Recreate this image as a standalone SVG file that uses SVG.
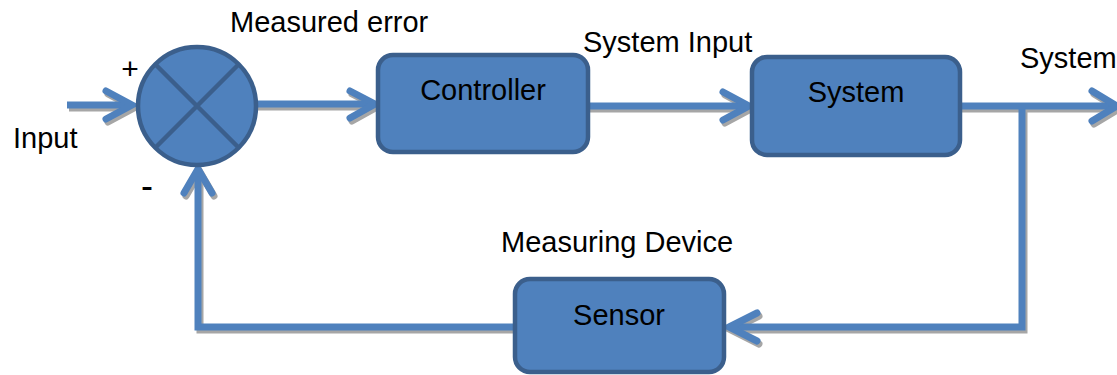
<svg xmlns="http://www.w3.org/2000/svg" xmlns:xlink="http://www.w3.org/1999/xlink" width="1117" height="375" viewBox="0 0 1117 375">
  <style>
    .lbl { font-family: "Liberation Sans", Arial, sans-serif; font-size: 29px; fill: #000; }
    .sign { font-family: "Liberation Sans", Arial, sans-serif; font-size: 30px; fill: #000; text-anchor: middle; }
    .minus { font-size: 36px; }
    .mid { text-anchor: middle; }
    .box { fill: #4f81bd; stroke: #3b5f8c; stroke-width: 4.5; }
    .wire { fill: none; stroke-width: 7; stroke-linecap: butt; stroke-linejoin: miter; }
    .head { fill: none; stroke-width: 7; stroke-linecap: round; stroke-linejoin: miter; stroke-miterlimit: 10; }
  </style>
  <defs>
    <!-- all signal paths, drawn twice: once as a grey drop shadow, once in blue -->
    <g id="paths">
      <path class="wire" d="M67 105 H131"/>
      <polyline class="head" points="106,91 132,105 106,119"/>
      <path class="wire" d="M255 104 H374"/>
      <polyline class="head" points="350,91 375,104 350,118"/>
      <path class="wire" d="M588 106 H748"/>
      <polyline class="head" points="723,92 749,106 723,120"/>
      <path class="wire" d="M960 106 H1115"/>
      <polyline class="head" points="1092,91 1117,106 1092,121"/>
      <path class="wire" d="M1022 106 V327 H731"/>
      <polyline class="head" points="757,313 729,327 757,341"/>
      <path class="wire" d="M516 327 H198 V171"/>
      <polyline class="head" points="184,193 198,169 212,193"/>
    </g>
  </defs>

  <g id="connectors">
    <use xlink:href="#paths" transform="translate(2,3)" stroke="#a6a6a6"/>
    <use xlink:href="#paths" stroke="#4f81bd"/>
  </g>

  <g id="summing-junction">
    <circle cx="197" cy="106" r="59" class="box"/>
    <path d="M155 64 L239 148 M239 64 L155 148" stroke="#3b5f8c" stroke-width="4.5" fill="none"/>
    <text class="sign" x="130" y="79">+</text>
    <text class="sign minus" x="147" y="198">-</text>
  </g>

  <g id="input-label">
    <text class="lbl" x="13" y="148">Input</text>
  </g>

  <g id="error-label">
    <text class="lbl" x="230" y="32">Measured error</text>
  </g>

  <g id="controller">
    <rect x="378" y="55" width="210" height="97" rx="15" class="box"/>
    <text class="lbl mid" x="483" y="100">Controller</text>
  </g>

  <g id="system-input-label">
    <text class="lbl" x="583" y="52">System Input</text>
  </g>

  <g id="system">
    <rect x="752" y="57" width="208" height="98" rx="15" class="box"/>
    <text class="lbl mid" x="856" y="102">System</text>
  </g>

  <g id="output-label">
    <text class="lbl" x="1020" y="68">System</text>
  </g>

  <g id="measuring-label">
    <text class="lbl" x="501" y="252">Measuring Device</text>
  </g>

  <g id="sensor">
    <rect x="515" y="279" width="209" height="93" rx="15" class="box"/>
    <text class="lbl mid" x="619" y="325">Sensor</text>
  </g>
</svg>
